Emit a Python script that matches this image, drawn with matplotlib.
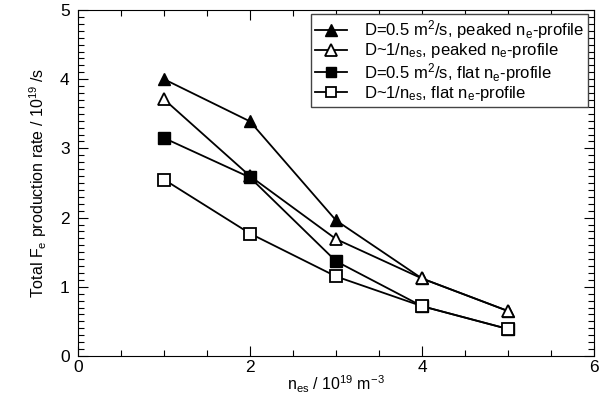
import numpy as np
import matplotlib
matplotlib.use('Agg')
import matplotlib.pyplot as plt
from matplotlib.ticker import MultipleLocator

plt.rcParams['font.family'] = ['Liberation Sans', 'DejaVu Sans']
plt.rcParams['mathtext.fontset'] = 'custom'
plt.rcParams['mathtext.rm'] = 'Liberation Sans'
plt.rcParams['mathtext.it'] = 'Liberation Sans'
plt.rcParams['mathtext.default'] = 'regular'

# data
n_es = [1, 2, 3, 4, 5]
peaked_const = [4.00, 3.39, 1.96, 1.12, 0.65]
peaked_inv = [3.71, 2.60, 1.69, 1.12, 0.65]
flat_const = [3.15, 2.58, 1.37, 0.72, 0.39]
flat_inv = [2.55, 1.77, 1.15, 0.72, 0.39]

labels = [r'D=0.5 m$^2$/s, peaked n$_e$-profile',
          r'D~1/n$_{es}$, peaked n$_e$-profile',
          r'D=0.5 m$^2$/s, flat n$_e$-profile',
          r'D~1/n$_{es}$, flat n$_e$-profile']

fig = plt.figure(figsize=(6.02, 3.94), dpi=100)
ax = fig.add_axes([78/602, 1-356/394, 516/602, 346/394])

ax.plot(n_es, peaked_const, '-^', color='k', mfc='k', ms=8.5, lw=1.3, label=labels[0])
ax.plot(n_es, peaked_inv, '-^', color='k', mfc='white', ms=8.5, mew=1.3, lw=1.3, label=labels[1])
ax.plot(n_es, flat_const, '-s', color='k', mfc='k', ms=8, lw=1.3, label=labels[2])
ax.plot(n_es, flat_inv, '-s', color='k', mfc='white', ms=8, mew=1.3, lw=1.3, label=labels[3])

ax.set_xlim(0, 6)
ax.set_ylim(0, 5)
ax.xaxis.set_major_locator(MultipleLocator(2))
ax.xaxis.set_minor_locator(MultipleLocator(0.5))
ax.yaxis.set_major_locator(MultipleLocator(1))
ax.yaxis.set_minor_locator(MultipleLocator(0.1))
ax.tick_params(which='both', direction='in', top=True, right=True, labelsize=12.5)
ax.tick_params(which='major', length=7, width=0.8)
ax.tick_params(which='minor', length=4, width=0.8)
ax.tick_params(axis='x', pad=3)
ax.tick_params(axis='y', pad=6)

ax.set_xlabel(r'n$_{es}$ / 10$^{19}$ m$^{-3}$', fontsize=11.5, labelpad=-1)
ax.set_ylabel(r'Total F$_e$ production rate / 10$^{19}$ /s', fontsize=11.5, labelpad=8)

leg = ax.legend(loc='upper right', bbox_to_anchor=(588/602, 1-14/394), bbox_transform=fig.transFigure,
                borderaxespad=0, fontsize=12, fancybox=False, framealpha=1, edgecolor='#444444',
                handlelength=1.9, labelspacing=0.02, borderpad=0.25, handletextpad=1.0,
                markerscale=0.95)
leg.get_frame().set_linewidth(1.0)

fig.savefig('out.png', dpi=100)
